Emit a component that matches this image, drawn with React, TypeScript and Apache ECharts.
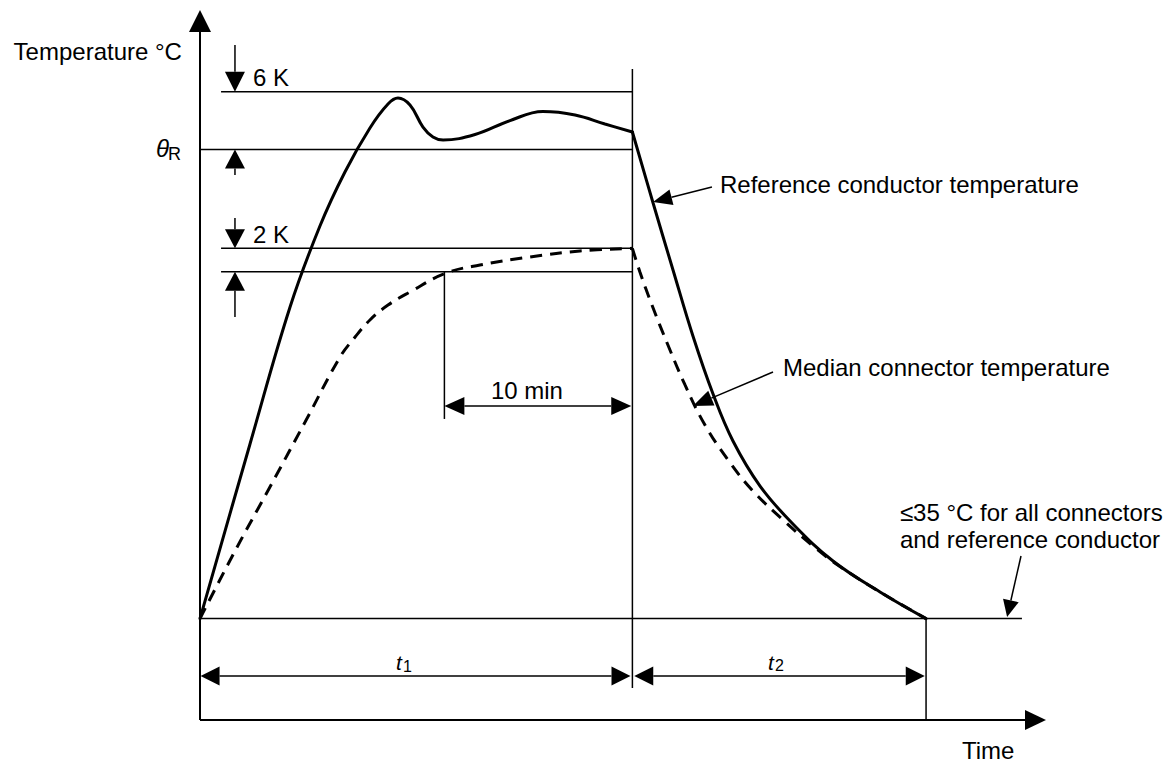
import React, { useEffect, useRef } from "react";
import * as echarts from "echarts";

// ---------- axes (time in min, temperature in °C; schematic scale) ----------
const TIME_MIN = 0;
const TIME_MAX = 45;
const TEMP_MIN = 25;
const TEMP_MAX = 95;

// ---------- reference levels (°C) ----------
const AMBIENT_LIMIT = 35; // ≤35 °C line
const THETA_R = 81.25; // θR
const THETA_R_PLUS_6K = 86.94; // θR + 6 K
const MEDIAN_FINAL = 71.5; // final median connector temperature
const MEDIAN_MINUS_2K = 69.2; // final median − 2 K

// ---------- times (min) ----------
const T1 = 23;
const T1_MINUS_10MIN = 13;
const T1_PLUS_T2 = 38.62;

// ---------- curves [time, temperature] ----------
const refHeating: number[][] = [
  [0, 35], [2.66, 52.21], [4.79, 65.72], [6.38, 73.7], [7.71, 79.03],
  [9.04, 83.37], [10.0, 85.73], [10.53, 86.32], [11.17, 85.63], [11.86, 83.46],
  [12.39, 82.48], [12.93, 82.18], [14.63, 82.72], [16.49, 84.1], [18.24, 84.99],
  [19.95, 84.65], [21.54, 83.76], [23, 82.97],
];
const refCooling: number[][] = [
  [23, 82.97], [24.1, 75.97], [25.16, 69.37], [26.22, 62.86], [27.29, 57.14],
  [28.35, 52.51], [29.79, 48.07], [31.54, 44.32], [33.67, 40.68], [36.17, 37.62],
  [38.62, 35],
];
const medianHeating: number[][] = [
  [0, 35], [1.86, 41.66], [3.72, 47.97], [5.59, 54.38], [7.45, 60.79],
  [8.25, 62.76], [9.04, 64.44], [10.0, 65.91], [11.17, 67.2], [13.03, 69.02],
  [14.89, 69.86], [17.55, 70.65], [20.21, 71.24], [23, 71.5],
];
const medianCooling: number[][] = [
  [23, 71.5], [23.4, 69.17], [24.04, 65.91], [24.89, 61.97], [25.8, 58.03],
  [26.86, 54.08], [28.09, 50.63], [29.36, 47.68], [31.01, 44.72], [32.61, 42.15],
  [34.04, 40.13], [36.17, 37.62], [38.62, 35],
];

const INK = "#000";
const FONT = '"Liberation Sans", Arial, Helvetica, sans-serif';

function renderAnnotations(_params: any, api: any) {
  const c = (x: number, y: number): number[] => api.coord([x, y]);
  const kids: any[] = [];

  const seg = (a: number[], b: number[], w = 1.5) =>
    kids.push({
      type: "line",
      shape: { x1: a[0], y1: a[1], x2: b[0], y2: b[1] },
      style: { stroke: INK, lineWidth: w, lineCap: "butt" },
    });

  // filled triangular head; returns base point
  const head = (tip: number[], from: number[], len: number, hw: number) => {
    const dx = tip[0] - from[0];
    const dy = tip[1] - from[1];
    const d = Math.hypot(dx, dy) || 1;
    const ux = dx / d;
    const uy = dy / d;
    const bx = tip[0] - ux * len;
    const by = tip[1] - uy * len;
    kids.push({
      type: "polygon",
      shape: {
        points: [
          [tip[0], tip[1]],
          [bx - uy * hw, by + ux * hw],
          [bx + uy * hw, by - ux * hw],
        ],
      },
      style: { fill: INK },
    });
    return [bx, by];
  };

  const arrow = (from: number[], tip: number[], len = 19, hw = 9.5, w = 1.5) => {
    const base = head(tip, from, len, hw);
    seg(from, base, w);
  };

  const dbl = (a: number[], b: number[], len = 19, hw = 9.5) => {
    const b1 = head(a, b, len, hw);
    const b2 = head(b, a, len, hw);
    seg(b1, b2);
  };

  const label = (
    str: string,
    p: number[],
    o: { size?: number; italic?: boolean; align?: string } = {}
  ) =>
    kids.push({
      type: "text",
      x: p[0],
      y: p[1],
      style: {
        text: str,
        fill: INK,
        fontSize: o.size ?? 24,
        fontFamily: FONT,
        fontStyle: o.italic ? "italic" : "normal",
        align: o.align ?? "left",
        verticalAlign: "middle",
      },
    });

  // axes with arrows
  arrow(c(TIME_MIN, TEMP_MIN), c(TIME_MIN, TEMP_MAX), 22, 11, 2);
  arrow(c(TIME_MIN, TEMP_MIN), c(TIME_MAX, TEMP_MIN), 21, 10, 2);

  // ambient (≤35 °C) line
  seg(c(TIME_MIN, AMBIENT_LIMIT), c(43.72, AMBIENT_LIMIT));

  // horizontal levels
  seg(c(1.12, THETA_R_PLUS_6K), c(T1, THETA_R_PLUS_6K));
  seg(c(TIME_MIN, THETA_R), c(T1, THETA_R));
  seg(c(1.12, MEDIAN_FINAL), c(T1, MEDIAN_FINAL));
  seg(c(1.12, MEDIAN_MINUS_2K), c(T1, MEDIAN_MINUS_2K));

  // verticals
  seg(c(T1, 89.18), c(T1, 28.15));
  seg(c(T1_MINUS_10MIN, MEDIAN_MINUS_2K), c(T1_MINUS_10MIN, 54.68));
  seg(c(T1_PLUS_T2, AMBIENT_LIMIT), c(T1_PLUS_T2, TEMP_MIN));

  // 6 K dimension arrows
  arrow(c(1.86, 91.55), c(1.86, THETA_R_PLUS_6K), 20, 10);
  arrow(c(1.86, 78.73), c(1.86, THETA_R), 19, 10);
  // 2 K dimension arrows
  arrow(c(1.86, 74.49), c(1.86, MEDIAN_FINAL), 19, 10);
  arrow(c(1.86, 64.73), c(1.86, MEDIAN_MINUS_2K), 19, 10);

  // 10 min
  dbl(c(T1_MINUS_10MIN, 55.96), c(T1 - 0.06, 55.96), 20, 9);
  // t1, t2
  dbl(c(TIME_MIN + 0.03, 29.34), c(T1 - 0.1, 29.34));
  dbl(c(T1 + 0.1, 29.34), c(T1_PLUS_T2 - 0.07, 29.34));

  // leader arrows
  arrow(c(27.23, 77.55), c(24.1, 76.07), 19, 8, 1.5);
  arrow(c(30.48, 59.31), c(26.22, 55.96), 20, 8, 1.5);
  arrow(c(43.67, 41.17), c(42.93, 35.15), 17, 8, 1.5);

  // texts
  label("Temperature °C", c(-0.96, 90.86), { align: "right" });
  label("θ", c(-1.65, 81.35), { italic: true, align: "right" });
  label("R", c(-1.7, 80.85), { size: 18 });
  label("6 K", c(2.82, 88.39));
  label("2 K", c(2.82, 72.82));
  label("10 min", c(17.39, 57.53), { align: "center" });
  label("t", c(10.43, 30.67), { italic: true, size: 21 });
  label("1", c(10.8, 30.32), { size: 16 });
  label("t", c(30.21, 30.67), { italic: true, size: 21 });
  label("2", c(30.58, 30.42), { size: 16 });
  label("Time", c(40.53, 22.04));
  label("Reference conductor temperature", c(27.66, 77.75));
  label("Median connector temperature", c(31.01, 59.8));
  label("≤35 °C for all connectors", c(37.23, 45.41));
  label("and reference conductor", c(37.23, 42.75));

  return { type: "group", children: kids };
}

const solid = { color: INK, width: 3, type: "solid" as const, cap: "round" as const };
const dashed = { color: INK, width: 3, type: [12, 8], cap: "butt" as const };

const curve = (name: string, data: number[][], style: any) => ({
  name,
  type: "line",
  data,
  smooth: 0.4,
  showSymbol: false,
  symbol: "none",
  silent: true,
  clip: false,
  z: 3,
  lineStyle: style,
});

const option: any = {
  animation: false,
  backgroundColor: "#fff",
  grid: { left: 200, top: 10, width: 846, height: 710 },
  xAxis: { type: "value", min: TIME_MIN, max: TIME_MAX, show: false },
  yAxis: { type: "value", min: TEMP_MIN, max: TEMP_MAX, show: false },
  series: [
    {
      type: "custom",
      renderItem: renderAnnotations,
      data: [[0, 0]],
      clip: false,
      silent: true,
      z: 1,
    },
    curve("Reference conductor temperature", refHeating, solid),
    curve("Reference conductor temperature (cooling)", refCooling, solid),
    curve("Median connector temperature", medianHeating, dashed),
    curve("Median connector temperature (cooling)", medianCooling, dashed),
  ],
};

export default function App() {
  const ref = useRef<HTMLDivElement>(null);
  useEffect(() => {
    const chart = echarts.init(ref.current as HTMLDivElement, null, { renderer: "svg" });
    chart.setOption(option);
    return () => chart.dispose();
  }, []);
  return (
    <div
      ref={ref}
      style={{ position: "fixed", left: 0, top: 0, width: 1170, height: 765, background: "#fff" }}
    />
  );
}
